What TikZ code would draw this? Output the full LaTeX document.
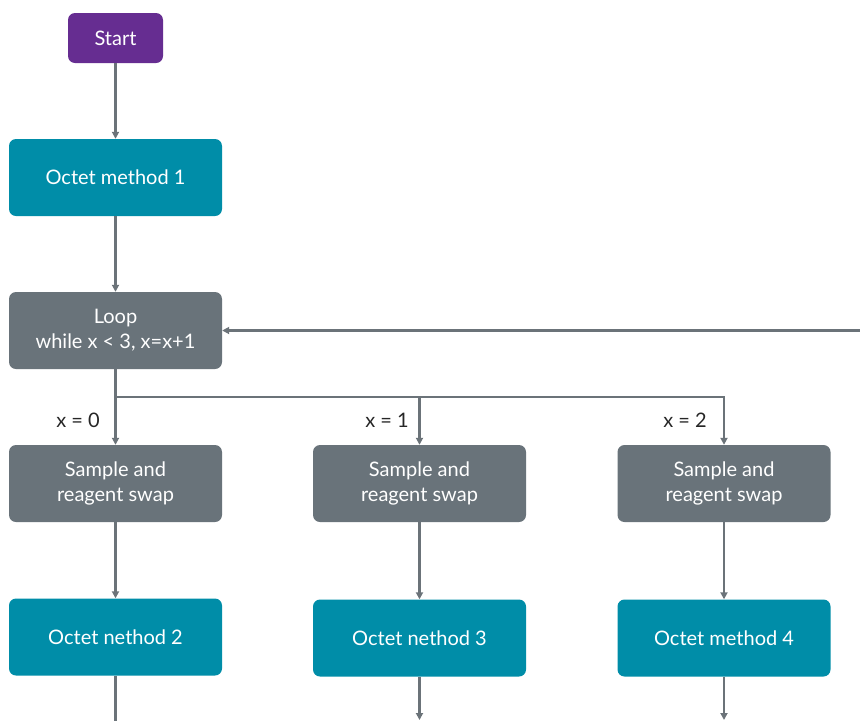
\documentclass[tikz,border=0pt]{standalone}
\usepackage{fontspec}
\setmainfont{Lato}
\usetikzlibrary{arrows.meta,positioning}
\definecolor{startpurple}{HTML}{662D91}
\definecolor{octetteal}{HTML}{008DA8}
\definecolor{loopgray}{HTML}{69737A}
\definecolor{linegray}{HTML}{6B7379}

\begin{document}
\begin{tikzpicture}[x=1pt,y=-1pt,
	box/.style={rounded corners=7pt, minimum width=213pt, minimum height=77pt, inner sep=0pt,
		align=center, text=white, font=\fontsize{20}{25}\selectfont},
	octet/.style={box, fill=octetteal},
	grey/.style={box, fill=loopgray},
	wire/.style={draw=linegray, line width=2.2pt},
	arr/.style={wire, -{Triangle[length=7pt,width=7pt]}},
	lbl/.style={font=\fontsize{20}{24}\selectfont, text=black!85}]
	\useasboundingbox (0,0) rectangle (860,721);

	\node[box, fill=startpurple, minimum width=95pt, minimum height=50pt] (start) at (115.5,38) {Start};
	\node[octet] (oct1) at (115.5,177.5) {Octet method 1};
	\node[grey] (loop) at (115.5,330.5) {Loop\\while x < 3, x=x+1};
	
	\node[grey] (swap1) at (115.5,483.5) {Sample and\\reagent swap};
	\node[grey] (swap2) at (419.5,483.5) {Sample and\\reagent swap};
	\node[grey] (swap3) at (724,483.5) {Sample and\\reagent swap};
	
	\node[octet] (oct2) at (115.5,637) {Octet nethod 2};
	\node[octet] (oct3) at (419.5,638) {Octet nethod 3};
	\node[octet] (oct4) at (724,638) {Octet method 4};
	
	\node[lbl] (lbl0) at (78,420) {x = 0};
	\node[lbl] (lbl1) at (387,420) {x = 1};
	\node[lbl] (lbl2) at (685,420) {x = 2};
	
	\coordinate (split) at (115.5,397);
	\coordinate (back) at (860,330.5);
	\coordinate (end2) at (115.5,721);
	\coordinate (end3) at (419.5,720);
	\coordinate (end4) at (724,720);
	
	\draw[arr] (start) -- (oct1);
	\draw[arr] (oct1) -- (loop);
	\draw[arr] (back) -- (loop.east);
	\draw[arr] (loop) -- (swap1);
	\draw[arr] (split) -| (swap2);
	\draw[arr] (split) -| (swap3);
	\draw[arr] (swap1) -- (oct2);
	\draw[arr] (swap2) -- (oct3);
	\draw[arr] (swap3) -- (oct4);
	\draw[wire] (oct2) -- (end2);
	\draw[arr] (oct3) -- (end3);
	\draw[arr] (oct4) -- (end4);
\end{tikzpicture}
\end{document}
